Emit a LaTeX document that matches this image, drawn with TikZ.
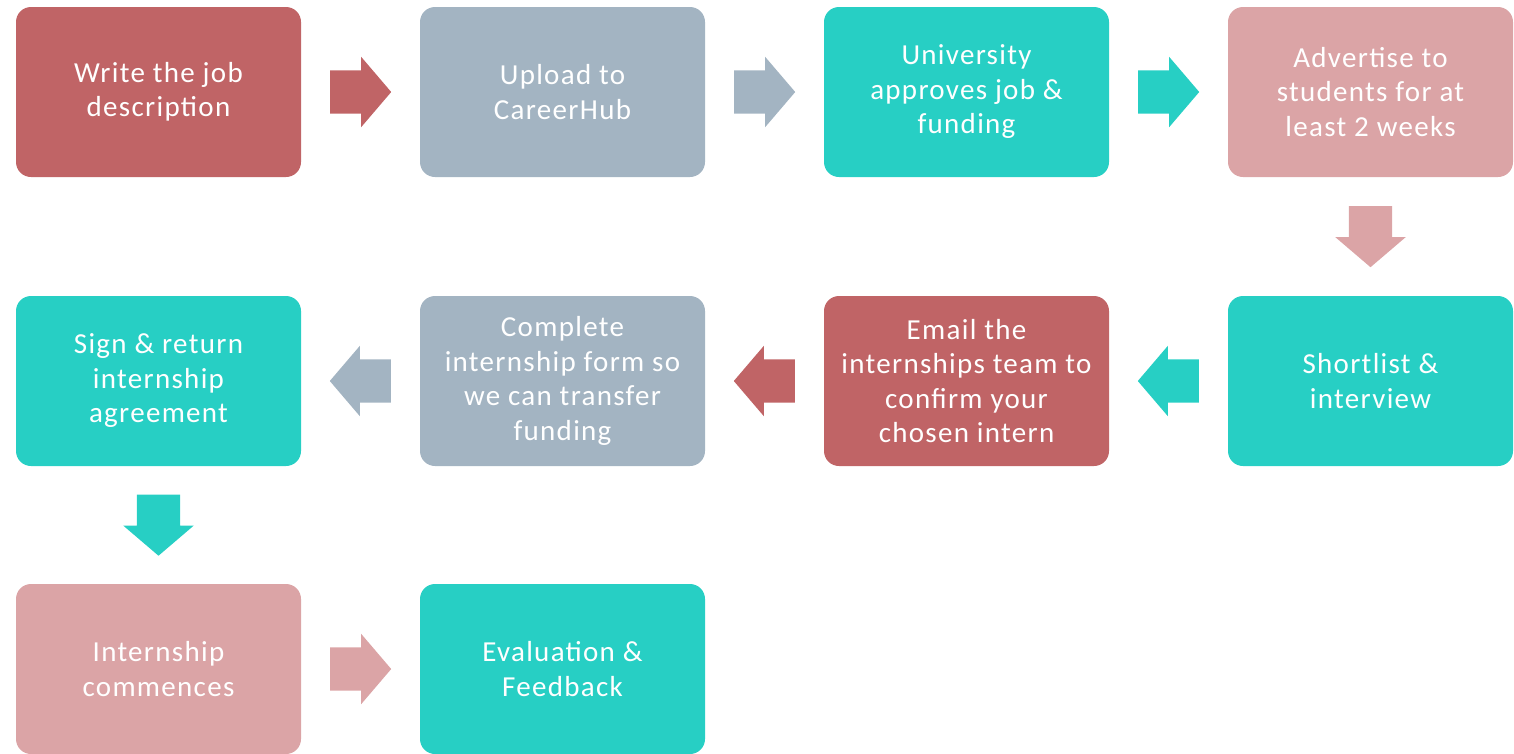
\documentclass[tikz,border=0pt]{standalone}
\usepackage{fontspec}
\setmainfont{Carlito}[LetterSpace=4.5]
\usetikzlibrary{shapes.arrows,calc}
\definecolor{stepred}{RGB}{192,100,102}
\definecolor{stepgrey}{RGB}{163,180,194}
\definecolor{stepteal}{RGB}{39,207,196}
\definecolor{steppink}{RGB}{219,164,166}

\begin{document}
\begin{tikzpicture}[
      x=1pt, y=-1pt,
      stepbox/.style={rectangle, rounded corners=15pt, fill=#1, minimum width=285pt,
        minimum height=170pt, inner sep=0pt, text=white, align=center,
        font=\fontsize{29}{34.5}\selectfont},
      flow/.style={single arrow, fill=#1, anchor=tail, minimum height=61pt,
        single arrow head extend=13.5pt, single arrow tip angle=99},
      rflow/.style={flow=#1, inner xsep=0pt, inner ysep=21.5pt, xshift=-30.5pt},
      lflow/.style={flow=#1, inner xsep=0pt, inner ysep=21.5pt, xshift=30.5pt,
        shape border rotate=180},
      dflow/.style={flow=#1, inner xsep=21.5pt, inner ysep=0pt, yshift=30.5pt,
        shape border rotate=270}
    ]
    \useasboundingbox (0,0) rectangle (1514,753);
    % first row
    \node[stepbox=stepred]  (write)  at (158.5,92) {Write the job\\description};
    \node[stepbox=stepgrey] (upload) at (562.5,92) {Upload to\\CareerHub};
    \node[stepbox=stepteal] (approve) at (966.5,92) {University\\approves job \&\\funding};
    \node[stepbox=steppink] (advert) at (1370.5,92) {Advertise to\\students for at\\least 2 weeks};
    % second row
    \node[stepbox=stepteal] (shortlist) at (1370.5,381) {Shortlist \&\\interview};
    \node[stepbox=stepred]  (email)  at (966.5,381) {Email the\\internships team to\\confirm your\\chosen intern};
    \node[stepbox=stepgrey] (form)   at (562.5,381) {Complete\\internship form so\\we can transfer\\funding};
    \node[stepbox=stepteal] (sign)   at (158.5,381) {Sign \& return\\internship\\agreement};
    % third row
    \node[stepbox=steppink] (start)  at (158.5,669) {Internship\\commences};
    \node[stepbox=stepteal] (review) at (562.5,669) {Evaluation \&\\Feedback};
    % arrows
    \node[rflow=stepred]  (a1) at ($(write.east)!0.5!(upload.west)$) {};
    \node[rflow=stepgrey] (a2) at ($(upload.east)!0.5!(approve.west)$) {};
    \node[rflow=stepteal] (a3) at ($(approve.east)!0.5!(advert.west)$) {};
    \node[dflow=steppink] (a4) at ($(advert.south)!0.5!(shortlist.north)$) {};
    \node[lflow=stepteal] (a5) at ($(shortlist.west)!0.5!(email.east)$) {};
    \node[lflow=stepred]  (a6) at ($(email.west)!0.5!(form.east)$) {};
    \node[lflow=stepgrey] (a7) at ($(form.west)!0.5!(sign.east)$) {};
    \node[dflow=stepteal] (a8) at ($(sign.south)!0.5!(start.north)$) {};
    \node[rflow=steppink] (a9) at ($(start.east)!0.5!(review.west)$) {};
\end{tikzpicture}
\end{document}
